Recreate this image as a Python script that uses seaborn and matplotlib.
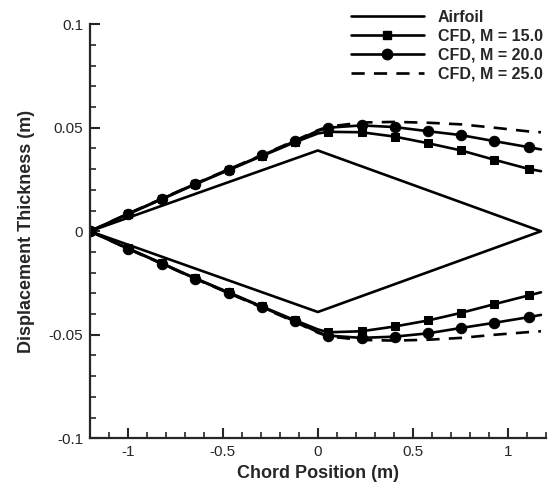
import numpy as np
import pandas as pd
import matplotlib
matplotlib.use("Agg")
import matplotlib.pyplot as plt
from matplotlib.ticker import MultipleLocator, FuncFormatter
from matplotlib.lines import Line2D
import seaborn as sns

# airfoil outline (diamond)
airfoil_x = [-1.2, 0.0, 1.175, 0.0, -1.2]
airfoil_y = [0.0, 0.039, 0.0, -0.039, 0.0]

# CFD displacement surface, upper and lower
cfd_x = [-1.2, -1.0, -0.82, -0.645, -0.47, -0.295, -0.12, 0.0, 0.055,
         0.23, 0.405, 0.58, 0.755, 0.93, 1.11, 1.175]
m15_upper = [0.0, 0.0082, 0.0155, 0.0227, 0.0295, 0.0363, 0.0430, 0.0472, 0.0480,
             0.0478, 0.0457, 0.0425, 0.0390, 0.0345, 0.0301, 0.0290]
m20_upper = [0.0, 0.0084, 0.0157, 0.0229, 0.0297, 0.0366, 0.0435, 0.0485, 0.0500,
             0.0511, 0.0503, 0.0483, 0.0464, 0.0435, 0.0406, 0.0395]
m25_upper = [0.0, 0.0085, 0.0158, 0.0230, 0.0299, 0.0368, 0.0438, 0.0488, 0.0505,
             0.0525, 0.0528, 0.0524, 0.0516, 0.0500, 0.0482, 0.0478]
m15_lower = [0.0, -0.0082, -0.0155, -0.0227, -0.0295, -0.0363, -0.0430, -0.0474, -0.0488,
             -0.0483, -0.0460, -0.0431, -0.0394, -0.0352, -0.0310, -0.0295]
m20_lower = [0.0, -0.0084, -0.0157, -0.0229, -0.0297, -0.0366, -0.0435, -0.0487, -0.0504,
             -0.0515, -0.0509, -0.0493, -0.0467, -0.0442, -0.0415, -0.0404]
m25_lower = [0.0, -0.0085, -0.0158, -0.0230, -0.0299, -0.0368, -0.0438, -0.0490, -0.0508,
             -0.0525, -0.0528, -0.0524, -0.0515, -0.0500, -0.0487, -0.0483]

legend_labels = ["Airfoil", "CFD, M = 15.0", "CFD, M = 20.0", "CFD, M = 25.0"]

sns.set_style("ticks")
plt.rcParams['font.family'] = ['Liberation Sans', 'DejaVu Sans']
plt.rcParams['axes.unicode_minus'] = False

fig = plt.figure(figsize=(5.52, 4.83), dpi=100)
ax = fig.add_axes([0.163, 0.0925, 0.8256, 0.8575])

lw = 1.9
# markers on every point except x=0 and the trailing end
mark_idx = [i for i in range(len(cfd_x)) if i not in (7, len(cfd_x) - 1)]

sns.lineplot(x=airfoil_x, y=airfoil_y, sort=False, estimator=None,
             color="black", lw=lw, ax=ax)

styles = [
    (m15_upper, m15_lower, dict(marker="s", markersize=5.5)),
    (m20_upper, m20_lower, dict(marker="o", markersize=7.5)),
    (m25_upper, m25_lower, dict(marker=None, dashes=(5, 3.5))),
]
for up, lo, kw in styles:
    for yy in (up, lo):
        kws = dict(kw)
        dashes = kws.pop("dashes", None)
        line_kw = dict(sort=False, estimator=None, color="black", lw=lw, ax=ax)
        if kws.get("marker"):
            line_kw.update(marker=kws["marker"], markersize=kws["markersize"],
                           markevery=mark_idx, markeredgecolor="black")
        sns.lineplot(x=cfd_x, y=yy, **line_kw)
        if dashes is not None:
            ax.lines[-1].set_dashes(dashes)

ax.set_xlim(-1.2, 1.2)
ax.set_ylim(-0.1, 0.1)
ax.xaxis.set_major_locator(MultipleLocator(0.5))
ax.xaxis.set_minor_locator(MultipleLocator(0.1))
ax.yaxis.set_major_locator(MultipleLocator(0.05))
ax.yaxis.set_minor_locator(MultipleLocator(0.01))
fmt = FuncFormatter(lambda v, p: "%g" % round(v, 3))
ax.xaxis.set_major_formatter(fmt)
ax.yaxis.set_major_formatter(fmt)

ax.tick_params(which="major", direction="in", length=7, width=1.5, labelsize=11, pad=5)
ax.tick_params(which="minor", direction="in", length=4, width=1.2)
for s in ["top", "right"]:
    ax.spines[s].set_visible(False)
for s in ["left", "bottom"]:
    ax.spines[s].set_linewidth(1.6)

ax.set_xlabel("Chord Position (m)", fontsize=13, fontweight="bold", labelpad=4)
ax.set_ylabel("Displacement Thickness (m)", fontsize=13, fontweight="bold", labelpad=10)

handles = [
    Line2D([], [], color="black", lw=lw),
    Line2D([], [], color="black", lw=lw, marker="s", markersize=5.5),
    Line2D([], [], color="black", lw=lw, marker="o", markersize=7.5),
    Line2D([], [], color="black", lw=lw, dashes=(5, 3.5)),
]
leg = ax.legend(handles, legend_labels, loc="upper right", bbox_to_anchor=(1.025, 1.07),
                frameon=False, handlelength=4.6, handletextpad=0.85, labelspacing=0.26,
                prop=dict(family="Liberation Sans", weight="bold", size=11.5))

fig.savefig("out.png", dpi=100)
